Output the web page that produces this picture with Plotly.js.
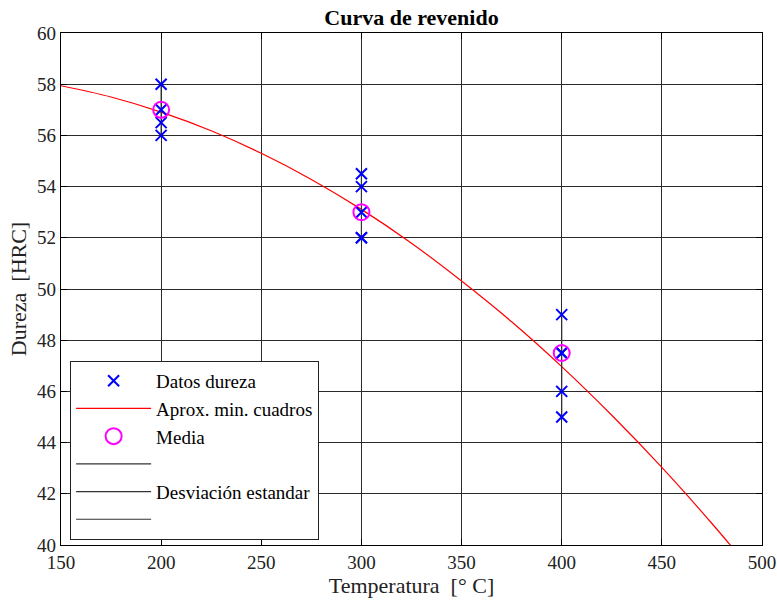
<!DOCTYPE html>
<html>
<head>
<meta charset="utf-8">
<script src="https://cdn.plot.ly/plotly-3.0.1.min.js"></script>
<style>html,body{margin:0;padding:0;background:#fff}#chart{width:777px;height:600px}</style>
</head>
<body>
<div id="chart"></div>
<script>
// Measured hardness data
const dataTemp = [200, 200, 200, 200, 300, 300, 300, 300, 300, 400, 400, 400, 400, 400];
const dataHard = [58, 57, 56.5, 56, 54.5, 54, 53, 52, 52, 49, 47.5, 47.5, 46, 45];
// Means
const meanTemp = [200, 300, 400];
const meanHard = [57, 53, 47.5];
// Least squares approximation curve
const fitTemp = [150, 175, 200, 225, 250, 275, 300, 325, 350, 375, 400, 425, 450, 475, 500];
const fitHard = [57.94, 57.50, 56.91, 56.18, 55.30, 54.28, 53.11, 51.79, 50.31, 48.72, 46.97, 45.07, 43.03, 40.84, 38.51];
// Standard deviation segments
const sdTemp1 = [200, 200];
const sdHard1 = [56, 58];
const sdTemp2 = [300, 300];
const sdHard2 = [52, 54.5];
const sdTemp3 = [400, 400];
const sdHard3 = [45, 49];
// Tick labels
const xTicks = [150, 200, 250, 300, 350, 400, 450, 500];
const yTicks = [40, 42, 44, 46, 48, 50, 52, 54, 56, 58, 60];

const serif = '"Liberation Serif", "Times New Roman", Times, serif';
const sdColor = '#333333';

const traces = [
  {x: fitTemp, y: fitHard, type: 'scatter', mode: 'lines', name: 'Aprox. min. cuadros',
   line: {color: '#ff0000', width: 1.2, shape: 'spline'}, legendrank: 2},
  {x: sdTemp1, y: sdHard1, type: 'scatter', mode: 'lines', name: ' ',
   line: {color: sdColor, width: 1.2}, legendrank: 4},
  {x: sdTemp2, y: sdHard2, type: 'scatter', mode: 'lines', name: 'Desviación estandar',
   line: {color: sdColor, width: 1.2}, legendrank: 5},
  {x: sdTemp3, y: sdHard3, type: 'scatter', mode: 'lines', name: '  ',
   line: {color: sdColor, width: 1.2}, legendrank: 6},
  {x: dataTemp, y: dataHard, type: 'scatter', mode: 'markers', name: 'Datos dureza',
   marker: {symbol: 'x-thin', size: 11, color: '#0000ff', line: {color: '#0000ff', width: 2}}, legendrank: 1},
  {x: meanTemp, y: meanHard, type: 'scatter', mode: 'markers', name: 'Media',
   marker: {symbol: 'circle-open', size: 16, color: '#ff00ff', line: {color: '#ff00ff', width: 2}}, legendrank: 3}
];

const axisCommon = {
  showline: true, mirror: 'ticks', linecolor: '#000', linewidth: 1.2,
  ticks: 'inside', ticklen: 6, tickcolor: '#000',
  showgrid: true, gridcolor: '#2a2a2a', gridwidth: 1,
  zeroline: false
};

const layout = {
  width: 777, height: 600,
  margin: {l: 61, r: 15, t: 33, b: 55},
  paper_bgcolor: '#fff', plot_bgcolor: '#fff',
  font: {family: serif, size: 18, color: '#222'},
  title: {text: '<b>Curva de revenido</b>', font: {family: serif, size: 22, color: '#000'},
          x: 0.5, xref: 'paper', y: 0.972, yanchor: 'middle'},
  xaxis: Object.assign({}, axisCommon, {range: [150, 500], tickvals: xTicks, ticktext: xTicks.map(String),
    tickfont: {family: serif, size: 19, color: '#222'},
    title: {text: 'Temperatura  [° C]', font: {family: serif, size: 22, color: '#222'}, standoff: 3}}),
  yaxis: Object.assign({}, axisCommon, {range: [40, 60], tickvals: yTicks, ticktext: yTicks.map(String),
    tickfont: {family: serif, size: 19, color: '#222'},
    title: {text: 'Dureza  [HRC]', font: {family: serif, size: 22, color: '#222'}, standoff: 4}}),
  showlegend: true,
  legend: {x: 0.013, y: 0.01, xanchor: 'left', yanchor: 'bottom',
    bgcolor: '#fff', bordercolor: '#222', borderwidth: 1,
    font: {family: serif, size: 19, color: '#000'}, itemwidth: 75,
    traceorder: 'normal', tracegroupgap: 0}
};

Plotly.newPlot('chart', traces, layout, {displayModeBar: false, staticPlot: true});
</script>
</body>
</html>
